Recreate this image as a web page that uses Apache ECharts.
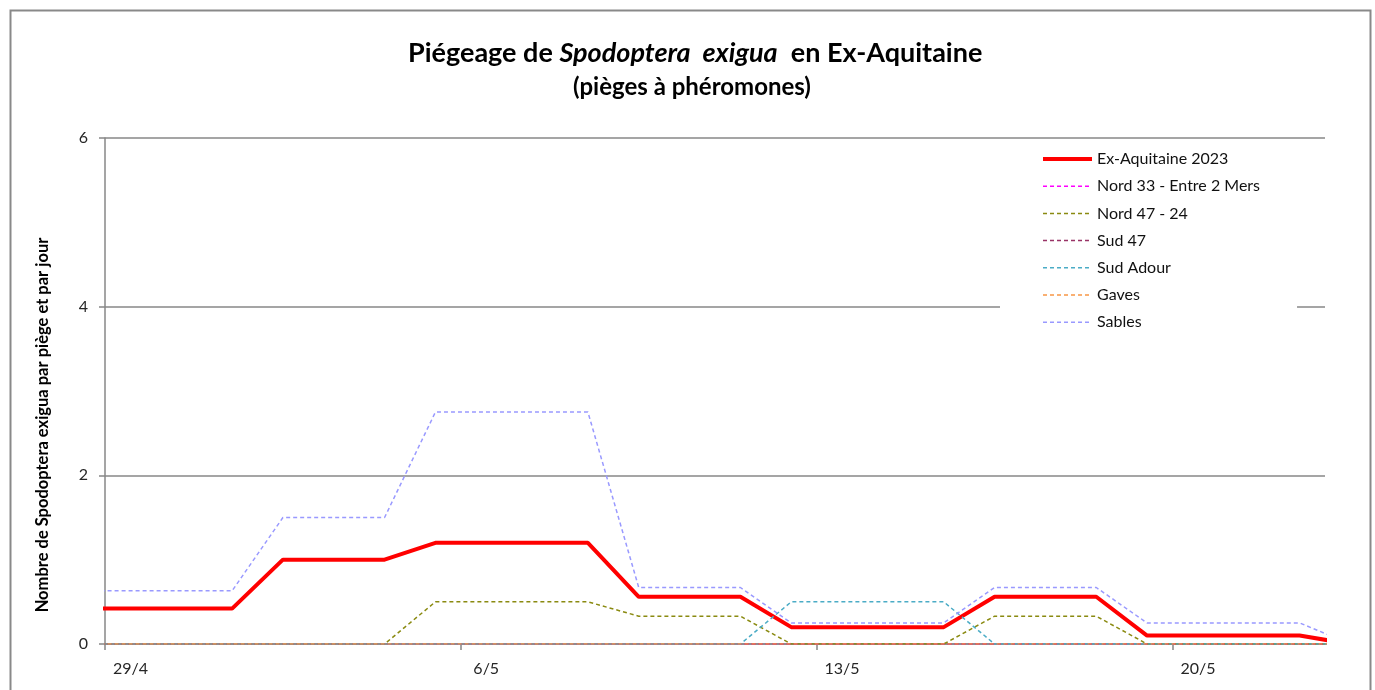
<!DOCTYPE html>
<html>
<head>
<meta charset="utf-8">
<script src="https://cdn.jsdelivr.net/npm/echarts@6/dist/echarts.min.js"></script>
<style>
  html, body { margin: 0; padding: 0; background: #fff; }
  #chart { width: 1375px; height: 690px; }
</style>
</head>
<body>
<div id="chart"></div>
<script>
// Daily dates (28/4 and 23/5 only run off the plot edges)
const dates = ['28/4','29/4','30/4','1/5','2/5','3/5','4/5','5/5','6/5','7/5','8/5','9/5','10/5',
  '11/5','12/5','13/5','14/5','15/5','16/5','17/5','18/5','19/5','20/5','21/5','22/5','23/5'];

// Captures per trap and per day
const exAquitaine2023 = [0.42,0.42,0.42,0.42,1.0,1.0,1.0,1.2,1.2,1.2,1.2,0.56,0.56,0.56,0.2,0.2,0.2,0.2,0.56,0.56,0.56,0.1,0.1,0.1,0.1,0];
const nord33 =          [0,0,0,0,0,0,0,0,0,0,0,0,0,0,0,0,0,0,0,0,0,0,0,0,0,0];
const nord4724 =        [0,0,0,0,0,0,0,0.5,0.5,0.5,0.5,0.33,0.33,0.33,0,0,0,0,0.33,0.33,0.33,0,0,0,0,0];
const sud47 =           [0,0,0,0,0,0,0,0,0,0,0,0,0,0,0,0,0,0,0,0,0,0,0,0,0,0];
const sudAdour =        [0,0,0,0,0,0,0,0,0,0,0,0,0,0,0.5,0.5,0.5,0.5,0,0,0,0,0,0,0,0];
const gaves =           [0,0,0,0,0,0,0,0,0,0,0,0,0,0,0,0,0,0,0,0,0,0,0,0,0,0];
const sables =          [0.63,0.63,0.63,0.63,1.5,1.5,1.5,2.75,2.75,2.75,2.75,0.67,0.67,0.67,0.25,0.25,0.25,0.25,0.67,0.67,0.67,0.25,0.25,0.25,0.25,0];

const tickLabels = ['29/4','6/5','13/5','20/5'];
const yTicks = [0, 2, 4, 6];

const FONT = 'Lato, "Open Sans", sans-serif';
const GRID = '#878787';

const labelPos = tickLabels.map(d => dates.indexOf(d));
const tickPos = labelPos.map(p => p - 0.5);

function pairs(arr) { return arr.map((v, i) => [i, v]); }

const dashed = [4, 3];
const seriesDefs = [
  { name: 'Ex-Aquitaine 2023', data: exAquitaine2023, color: '#FF0000', width: 4, type: 'solid' },
  { name: 'Nord 33 - Entre 2 Mers', data: nord33, color: '#FF00FF', width: 1.5, type: dashed },
  { name: 'Nord 47 - 24', data: nord4724, color: '#8A8A10', width: 1.5, type: dashed },
  { name: 'Sud 47', data: sud47, color: '#993366', width: 1.5, type: dashed },
  { name: 'Sud Adour', data: sudAdour, color: '#4BACC6', width: 1.5, type: dashed },
  { name: 'Gaves', data: gaves, color: '#F79646', width: 1.5, type: dashed },
  { name: 'Sables', data: sables, color: '#9999FF', width: 1.5, type: dashed }
];

const chart = echarts.init(document.getElementById('chart'), null, { renderer: 'canvas' });

chart.setOption({
  animation: false,
  backgroundColor: '#fff',
  textStyle: { fontFamily: FONT },
  title: [
    {
      text: '{n|Piégeage de }{i|Spodoptera  exigua}{n|  en Ex-Aquitaine}',
      left: 403, top: 35,
      textStyle: {
        rich: {
          n: { fontFamily: FONT, fontSize: 27, fontWeight: 'bold', color: '#000' },
          i: { fontFamily: FONT, fontSize: 27, fontWeight: 'bold', fontStyle: 'italic', color: '#000' }
        }
      }
    },
    {
      text: '(pièges à phéromones)',
      left: 568, top: 70,
      textStyle: { fontFamily: FONT, fontSize: 24, fontWeight: 'bold', color: '#000' }
    }
  ],
  graphic: [
    {
      type: 'rect', left: 8, top: 8, z: -10, silent: true,
      shape: { width: 1360, height: 700 },
      style: { fill: 'none', stroke: '#898989', lineWidth: 2 }
    }
  ],
  legend: {
    orient: 'vertical',
    left: 1000, top: 143,
    padding: [8, 37, 8, 41],
    backgroundColor: '#fff',
    itemWidth: 49, itemHeight: 16, itemGap: 11.2,
    textStyle: { fontFamily: FONT, fontSize: 16, color: '#111' },
    data: seriesDefs.map(s => ({
      name: s.name,
      itemStyle: { opacity: 0 },
      lineStyle: { color: s.color, width: s.width, type: s.type }
    })),
    z: 10
  },
  grid: { left: 105, right: 50, top: 138, bottom: 46 },
  xAxis: {
    type: 'value',
    min: 0.5, max: dates.length - 1.5,
    axisLine: { show: true, onZero: false, lineStyle: { color: GRID, width: 1.5 } },
    axisTick: { show: true, length: 6, customValues: tickPos, lineStyle: { color: GRID, width: 1.5 } },
    axisLabel: {
      customValues: labelPos,
      formatter: v => dates[Math.round(v)],
      fontFamily: FONT, fontSize: 16, color: '#262626', margin: 17
    },
    splitLine: { show: false }
  },
  yAxis: {
    type: 'value',
    min: yTicks[0], max: yTicks[yTicks.length - 1], interval: 2,
    name: 'Nombre de Spodoptera exigua par piège et par jour',
    nameLocation: 'middle', nameGap: 54,
    nameTextStyle: { fontFamily: FONT, fontSize: 16.5, fontWeight: 'bold', color: '#000', padding: [0, 68, 0, 0] },
    axisLine: { show: true, lineStyle: { color: GRID, width: 1.5 } },
    axisTick: { show: true, length: 6, lineStyle: { color: GRID, width: 1.5 } },
    axisLabel: { fontFamily: FONT, fontSize: 16, color: '#262626', margin: 17 },
    splitLine: { show: true, lineStyle: { color: GRID, width: 1.5 } }
  },
  series: seriesDefs.map(s => ({
    name: s.name,
    type: 'line',
    data: pairs(s.data),
    symbol: 'none',
    clip: true,
    lineStyle: { color: s.color, width: s.width, type: s.type },
    itemStyle: { color: s.color }
  }))
});
</script>
</body>
</html>
